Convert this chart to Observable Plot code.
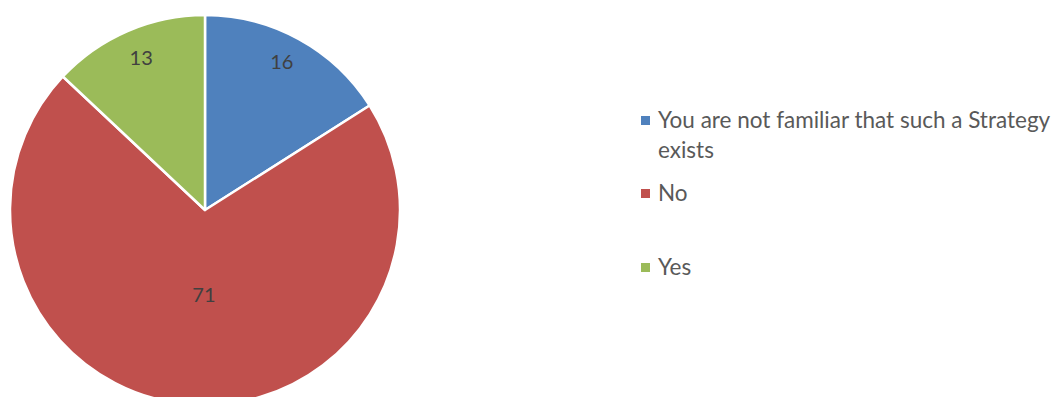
<!DOCTYPE html>
<html>
<head>
<meta charset="utf-8">
<script src="https://cdn.jsdelivr.net/npm/d3@7"></script>
<script src="https://cdn.jsdelivr.net/npm/@observablehq/plot@0.6"></script>
<style>
  html, body { margin: 0; padding: 0; background: #fff; }
  #wrap { position: relative; width: 1053px; height: 397px; overflow: hidden; }
  #legend { position: absolute; left: 641px; top: 0; font-family: Lato, "Open Sans", sans-serif; font-size: 22.5px; color: #595959; }
  .item { position: absolute; left: 0; white-space: nowrap; }
  .sw { position: absolute; left: 0; width: 9px; height: 9px; }
  .lab { position: absolute; left: 17px; line-height: 30px; }
</style>
</head>
<body>
<div id="wrap"></div>
<script>
const categories = ["You are not familiar that such a Strategy exists", "No", "Yes"];
const values = [16, 71, 13];
const colors = ["#4F81BD", "#C0504D", "#9BBB59"];

const data = categories.map((c, i) => ({category: c, value: values[i], color: colors[i]}));
const labelRadius = [0.85, 0.44, 0.85];
const labelDx = [-3, 7, 2];
const labelDy = [-3, 0, 0];

const W = 1053, H = 397;
const cx = 205, cy = 210, R = 195;

const pie = d3.pie().value(d => d.value).sort(null);
const arcs = pie(data);

const pieMark = (index, scales, values_, dims, context) => {
  const g = d3.create("svg:g");
  const arc = d3.arc().innerRadius(0).outerRadius(R);
  g.selectAll("path").data(arcs).join("path")
    .attr("transform", `translate(${cx},${cy})`)
    .attr("d", arc)
    .attr("fill", d => d.data.color)
    .attr("stroke", "#fff")
    .attr("stroke-width", 2.5)
    .attr("stroke-linejoin", "round");
  g.selectAll("text").data(arcs).join("text")
    .attr("transform", (d, i) => {
      const a = (d.startAngle + d.endAngle) / 2;
      const r = R * labelRadius[i];
      return `translate(${cx + r * Math.sin(a) + labelDx[i]},${cy - r * Math.cos(a) + labelDy[i]})`;
    })
    .attr("text-anchor", "middle")
    .attr("dy", "0.35em")
    .attr("font-family", "Lato, Open Sans, sans-serif")
    .attr("font-size", 20)
    .attr("fill", "#404040")
    .text(d => d.data.value);
  return g.node();
};

const chart = Plot.plot({
  width: W,
  height: H,
  margin: 0,
  x: {axis: null, domain: [0, 1]},
  y: {axis: null, domain: [0, 1]},
  marks: [pieMark]
});
document.getElementById("wrap").appendChild(chart);

// legend
const legend = document.createElement("div");
legend.id = "legend";
const tops = [104.5, 177.5, 251.5];
data.forEach((d, i) => {
  const item = document.createElement("div");
  item.className = "item";
  item.style.top = tops[i] + "px";
  const sw = document.createElement("div");
  sw.className = "sw";
  sw.style.background = d.color;
  sw.style.top = "11.5px";
  const lab = document.createElement("div");
  lab.className = "lab";
  if (i === 0) {
    lab.innerHTML = "You are not familiar that such a Strategy<br>exists";
  } else {
    lab.textContent = d.category;
  }
  item.appendChild(sw);
  item.appendChild(lab);
  legend.appendChild(item);
});
document.getElementById("wrap").appendChild(legend);
</script>
</body>
</html>
